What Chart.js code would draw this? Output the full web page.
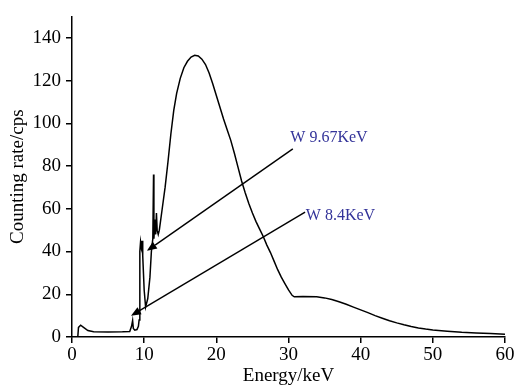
<!DOCTYPE html>
<html>
<head>
<meta charset="utf-8">
<script src="https://cdn.jsdelivr.net/npm/chart.js@4.4.1/dist/chart.umd.min.js"></script>
<style>
  html, body { margin: 0; padding: 0; background: #fff; }
  #wrap { width: 516px; height: 388px; }
</style>
</head>
<body>
<div id="wrap"><canvas id="spectrum" width="516" height="388"></canvas></div>
<script>
// spectrum: energy (keV) and counting rate (cps)
const energy = [0.8, 0.9, 1.2, 1.6, 2.2, 3.0, 5.0, 7.0, 8.0, 8.25, 8.4, 8.5, 8.7, 9.0, 9.2,
  9.3, 9.4, 9.5, 9.6, 9.7, 9.8, 9.9, 10.0, 10.2, 10.5, 10.8, 11.0, 11.2, 11.3, 11.35,
  11.5, 11.6, 11.7, 11.8, 11.95, 12.1, 12.5, 12.9, 13.3, 13.7, 14.1, 14.5, 15.0, 15.5,
  16.0, 16.5, 17.0, 17.5, 18.0, 18.5, 19.0, 19.5, 20.0, 20.5, 21.0, 21.5, 22.0, 22.5,
  23.0, 23.5, 24.0, 24.5, 25.0, 25.5, 26.0, 26.5, 27.0, 27.5, 28.0, 28.5, 29.0, 29.5,
  30.0, 30.5, 30.8, 32.0, 33.9, 35.0, 36.0, 37.0, 38.0, 39.0, 40.0, 41.0, 42.0, 43.0,
  44.0, 45.0, 46.0, 47.0, 48.0, 49.0, 50.0, 52.0, 54.0, 56.0, 58.0, 60.0];
const rate = [0, 4.5, 5.5, 4.5, 3.0, 2.5, 2.3, 2.4, 2.6, 5, 7.7, 4, 3.2, 3.5, 5,
  8, 40, 44.5, 42, 45, 38, 30, 22, 14, 18, 28, 40, 46, 76, 46,
  55, 48, 58, 50, 48, 50, 60, 70, 82, 95, 106, 114, 121, 126,
  129, 131, 131.8, 131.5, 130, 127.5, 123.5, 118.5, 113, 107.5, 102, 97, 92, 86,
  79.5, 73, 67.5, 62.5, 58, 54, 50.5, 47, 43, 39.5, 35.5, 31.5, 28, 25,
  22, 19.5, 18.8, 19, 18.8, 18.3, 17.5, 16.5, 15.3, 14, 12.7, 11.4, 10, 8.8,
  7.6, 6.6, 5.7, 4.9, 4.2, 3.7, 3.3, 2.7, 2.2, 1.9, 1.6, 1.3];

const xTicks = [0, 10, 20, 30, 40, 50, 60];
const yTicks = [0, 20, 40, 60, 80, 100, 120, 140];

// arrow labels: text, label anchor, arrow tail and tip (data units)
const labelText = ['W 9.67KeV', 'W 8.4KeV'];
const labelAt = [[30.25, 93.3], [32.4, 56.6]];
const arrowFrom = [[30.6, 88], [32.3, 58.4]];
const arrowTo = [[10.38, 40.3], [8.17, 9.9]];

const SERIF = '"Liberation Serif", "Times New Roman", serif';

const points = energy.map((e, i) => ({ x: e, y: rate[i] }));

const arrowPlugin = {
  id: 'arrows',
  afterDatasetsDraw(chart) {
    const ctx = chart.ctx;
    const xs = chart.scales.x, ys = chart.scales.y;
    ctx.save();
    ctx.strokeStyle = '#000';
    ctx.fillStyle = '#000';
    ctx.lineWidth = 1.4;
    for (let i = 0; i < arrowFrom.length; i++) {
      const x1 = xs.getPixelForValue(arrowFrom[i][0]);
      const y1 = ys.getPixelForValue(arrowFrom[i][1]);
      const x2 = xs.getPixelForValue(arrowTo[i][0]);
      const y2 = ys.getPixelForValue(arrowTo[i][1]);
      const a = Math.atan2(y2 - y1, x2 - x1);
      const len = 10, half = 4;
      const bx = x2 - len * Math.cos(a), by = y2 - len * Math.sin(a);
      ctx.beginPath();
      ctx.moveTo(x1, y1);
      ctx.lineTo(bx, by);
      ctx.stroke();
      ctx.beginPath();
      ctx.moveTo(x2, y2);
      ctx.lineTo(bx + half * Math.sin(a), by - half * Math.cos(a));
      ctx.lineTo(bx - half * Math.sin(a), by + half * Math.cos(a));
      ctx.closePath();
      ctx.fill();
    }
    ctx.fillStyle = '#333399';
    ctx.font = '16px ' + SERIF;
    ctx.textAlign = 'left';
    ctx.textBaseline = 'middle';
    labelText.forEach((t, i) => {
      ctx.fillText(t, xs.getPixelForValue(labelAt[i][0]), ys.getPixelForValue(labelAt[i][1]));
    });
    ctx.restore();
  }
};

new Chart(document.getElementById('spectrum').getContext('2d'), {
  type: 'line',
  data: {
    datasets: [{
      data: points,
      borderColor: '#000',
      borderWidth: 1.5,
      pointRadius: 0,
      tension: 0,
      fill: false
    }]
  },
  options: {
    responsive: false,
    animation: false,
    events: [],
    layout: { padding: { top: 5, right: 11, left: 0, bottom: 0 } },
    plugins: { legend: { display: false }, tooltip: { enabled: false } },
    scales: {
      x: {
        type: 'linear',
        min: 0,
        max: 60,
        afterFit: s => { s.height = 51; },
        afterBuildTicks: s => { s.ticks = xTicks.map(v => ({ value: v })); },
        grid: { drawOnChartArea: false, drawTicks: true, tickLength: 6, color: '#000', lineWidth: 1.5 },
        border: { color: '#000', width: 1.5 },
        ticks: { color: '#000', font: { family: SERIF, size: 19 }, padding: 1, maxRotation: 0 },
        title: { display: true, text: 'Energy/keV', color: '#000', font: { family: SERIF, size: 19 }, padding: { top: 0, bottom: 1 } }
      },
      y: {
        min: 0,
        max: 150,
        afterFit: s => { s.width = 72; },
        afterBuildTicks: s => { s.ticks = yTicks.map(v => ({ value: v })); },
        grid: { drawOnChartArea: false, drawTicks: true, tickLength: 6, color: '#000', lineWidth: 1.5 },
        border: { color: '#000', width: 1.5 },
        ticks: { color: '#000', font: { family: SERIF, size: 19 }, padding: 5 },
        title: { display: true, text: 'Counting rate/cps', color: '#000', font: { family: SERIF, size: 19 }, padding: { top: 7, bottom: 0 } }
      }
    }
  },
  plugins: [arrowPlugin]
});
</script>
</body>
</html>
